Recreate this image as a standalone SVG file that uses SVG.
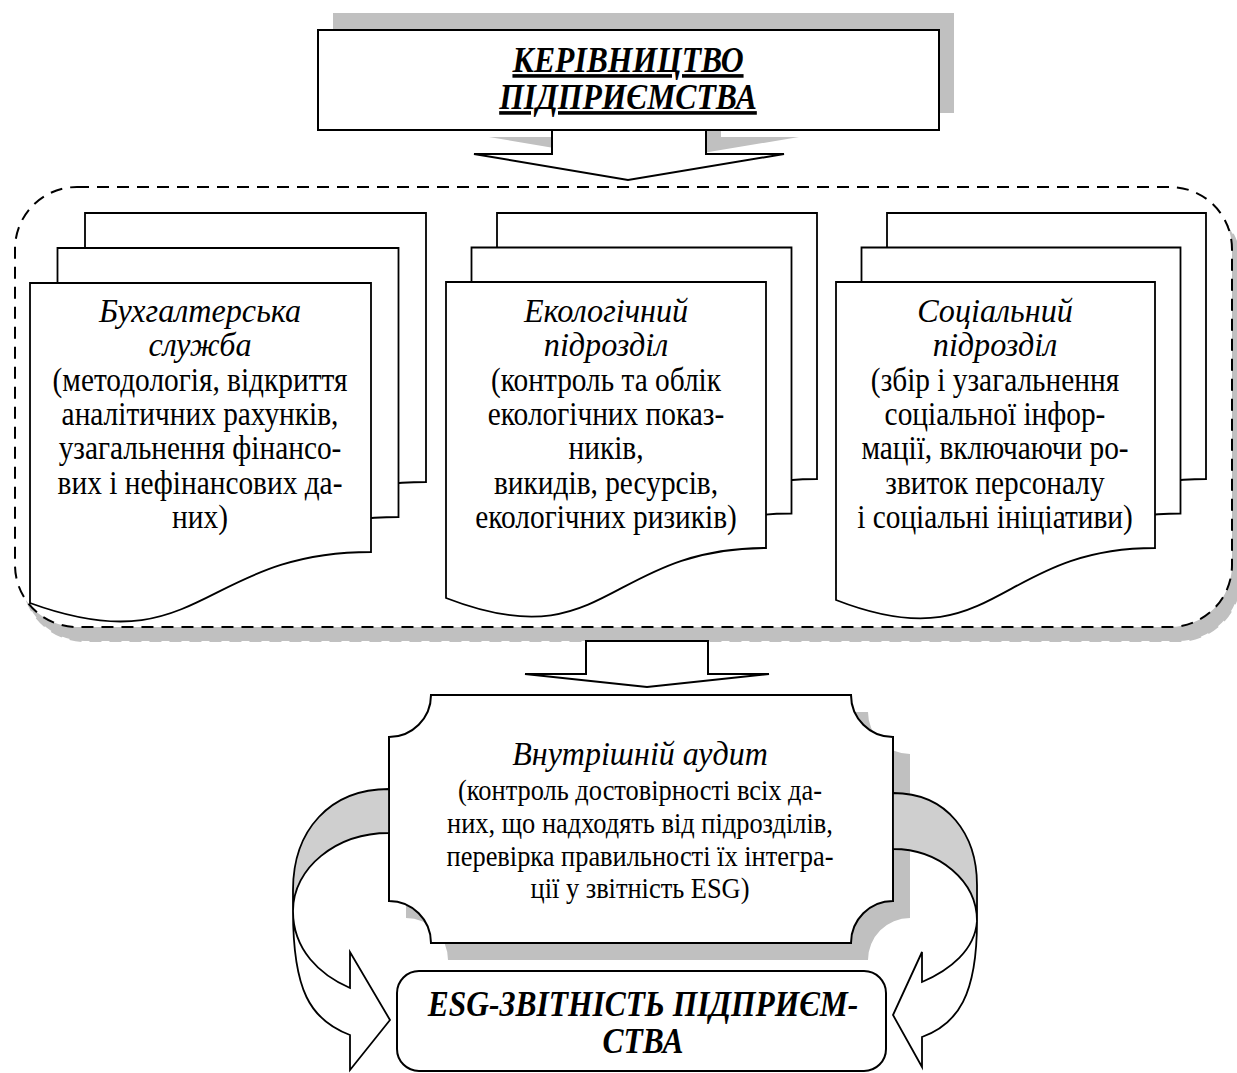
<svg xmlns="http://www.w3.org/2000/svg" xmlns:xlink="http://www.w3.org/1999/xlink" width="1237" height="1073" viewBox="0 0 1237 1073">
<style>
.ln{fill:#fff;stroke:#000;stroke-width:2;stroke-linejoin:miter}
.pg{fill:#fff;stroke:#000;stroke-width:1.8}
.sh{fill:#c0c0c0;stroke:none}
.band{fill:#cfcfcf;stroke:#000;stroke-width:1.8}
.wb{fill:#fff;stroke:#000;stroke-width:1.8}
.dash{fill:#fff;stroke:#000;stroke-width:2;stroke-dasharray:12 8}
.t{font-family:"Liberation Serif","Times New Roman",serif;fill:#000;text-anchor:middle}
.r{font-size:33px}
.i{font-size:33px;font-style:italic}
.a{font-size:30px}
.ai{font-size:33px;font-style:italic}
.h{font-size:36px;font-weight:bold;font-style:italic;text-decoration:underline}
.e{font-size:35px;font-weight:bold;font-style:italic}
</style>
<defs>
<path id="docL" d="M0,0 H341 V269 C170.5,269 170.5,382 0,320 Z"/>
<path id="docM" d="M0,0 H320 V266 C160,266 160,378 0,316 Z"/>
<path id="docR" d="M0,0 H319 V266 C159.5,266 159.5,380 0,318 Z"/>
</defs>

<g id="top-node">
<rect class="sh" x="333" y="13" width="621" height="100"/>
<path class="sh" d="M567,113 V137 H489 L643,163 L799,137 H721 V113 Z"/>
<path class="ln" d="M552,120 V154 H474 L628,180 L784,154 H706 V120 Z"/>
<rect class="ln" x="318" y="30" width="621" height="100"/>
<text class="t h" transform="translate(628,72) scale(0.88,1)">КЕРІВНИЦТВО</text>
<text class="t h" transform="translate(628,109) scale(0.88,1)">ПІДПРИЄМСТВА</text>
</g>

<g id="container">
<rect class="sh" x="23" y="201" width="1217" height="440" rx="62" ry="62" style="stroke:#c0c0c0;stroke-width:2;stroke-dasharray:12 8"/>
<rect class="dash" x="15" y="187" width="1217" height="440" rx="62" ry="62"/>
</g>

<g id="node-accounting">
<use xlink:href="#docL" class="pg" x="85" y="213"/>
<use xlink:href="#docL" class="pg" x="57.5" y="248"/>
<use xlink:href="#docL" class="pg" x="30" y="283"/>
<text class="t i" transform="translate(200,322) scale(0.975,1)">Бухгалтерська</text>
<text class="t i" transform="translate(200,356) scale(0.975,1)">служба</text>
<text class="t r" transform="translate(200,391) scale(0.89,1)">(методологія, відкриття</text>
<text class="t r" transform="translate(200,425) scale(0.89,1)">аналітичних рахунків,</text>
<text class="t r" transform="translate(200,459) scale(0.89,1)">узагальнення фінансо-</text>
<text class="t r" transform="translate(200,494) scale(0.89,1)">вих і нефінансових да-</text>
<text class="t r" transform="translate(200,528) scale(0.89,1)">них)</text>
</g>

<g id="node-ecology">
<use xlink:href="#docM" class="pg" x="497" y="213"/>
<use xlink:href="#docM" class="pg" x="471.5" y="247.5"/>
<use xlink:href="#docM" class="pg" x="446" y="282"/>
<text class="t i" transform="translate(606,322) scale(0.975,1)">Екологічний</text>
<text class="t i" transform="translate(606,356) scale(0.975,1)">підрозділ</text>
<text class="t r" transform="translate(606,391) scale(0.89,1)">(контроль та облік</text>
<text class="t r" transform="translate(606,425) scale(0.89,1)">екологічних показ-</text>
<text class="t r" transform="translate(606,459) scale(0.89,1)">ників,</text>
<text class="t r" transform="translate(606,494) scale(0.89,1)">викидів, ресурсів,</text>
<text class="t r" transform="translate(606,528) scale(0.89,1)">екологічних ризиків)</text>
</g>

<g id="node-social">
<use xlink:href="#docR" class="pg" x="887" y="213"/>
<use xlink:href="#docR" class="pg" x="861.5" y="247.5"/>
<use xlink:href="#docR" class="pg" x="836" y="282"/>
<text class="t i" transform="translate(995,322) scale(0.975,1)">Соціальний</text>
<text class="t i" transform="translate(995,356) scale(0.975,1)">підрозділ</text>
<text class="t r" transform="translate(995,391) scale(0.89,1)">(збір і узагальнення</text>
<text class="t r" transform="translate(995,425) scale(0.89,1)">соціальної інфор-</text>
<text class="t r" transform="translate(995,459) scale(0.89,1)">мації, включаючи ро-</text>
<text class="t r" transform="translate(995,494) scale(0.89,1)">звиток персоналу</text>
<text class="t r" transform="translate(995,528) scale(0.89,1)">і соціальні ініціативи)</text>
</g>

<g id="node-audit">
<path class="sh" d="M448,712 H868 A42,42 0 0 0 910,754 V918 A42,42 0 0 0 868,960 H448 A42,42 0 0 0 406,918 V754 A42,42 0 0 0 448,712 Z"/>
<path class="ln" d="M431,695 H851 A42,42 0 0 0 893,737 V901 A42,42 0 0 0 851,943 H431 A42,42 0 0 0 389,901 V737 A42,42 0 0 0 431,695 Z"/>
<text class="t ai" transform="translate(640,765) scale(0.97,1)">Внутрішній аудит</text>
<text class="t a" transform="translate(640,800) scale(0.88,1)">(контроль достовірності всіх да-</text>
<text class="t a" transform="translate(640,833) scale(0.88,1)">них, що надходять від підрозділів,</text>
<text class="t a" transform="translate(640,866) scale(0.88,1)">перевірка правильності їх інтегра-</text>
<text class="t a" transform="translate(640,898) scale(0.88,1)">ції у звітність ESG)</text>
</g>

<g id="connectors">
<path class="ln" d="M586,641 H708 V674 H769 L647,687 L525,674 H586 Z"/>
<path class="band" d="M389,789 C330,789 293,830 293,890 L293,911 C293,868 336,833 389,833 Z"/>
<path class="wb" d="M293,911 C293,990 310,1020 350,1035 L350,1070 L390,1020 L350,952 L350,988 C320,975 293,950 293,911 Z"/>
<path class="band" d="M893,793 C948,793 977,835 977,885 L977,921 C977,881 939,849 893,849 Z"/>
<path class="wb" d="M977,921 C977,995 958,1024 922,1037 L922,1067 L893,1015 L922,952 L922,982 C950,970 975,950 977,921 Z"/>
</g>

<g id="node-esg">
<rect class="ln" x="397" y="971" width="489" height="100" rx="22" ry="22"/>
<text class="t e" transform="translate(643,1016) scale(0.9,1)">ESG-ЗВІТНІСТЬ ПІДПРИЄМ-</text>
<text class="t e" transform="translate(643,1053) scale(0.9,1)">СТВА</text>
</g>
</svg>
